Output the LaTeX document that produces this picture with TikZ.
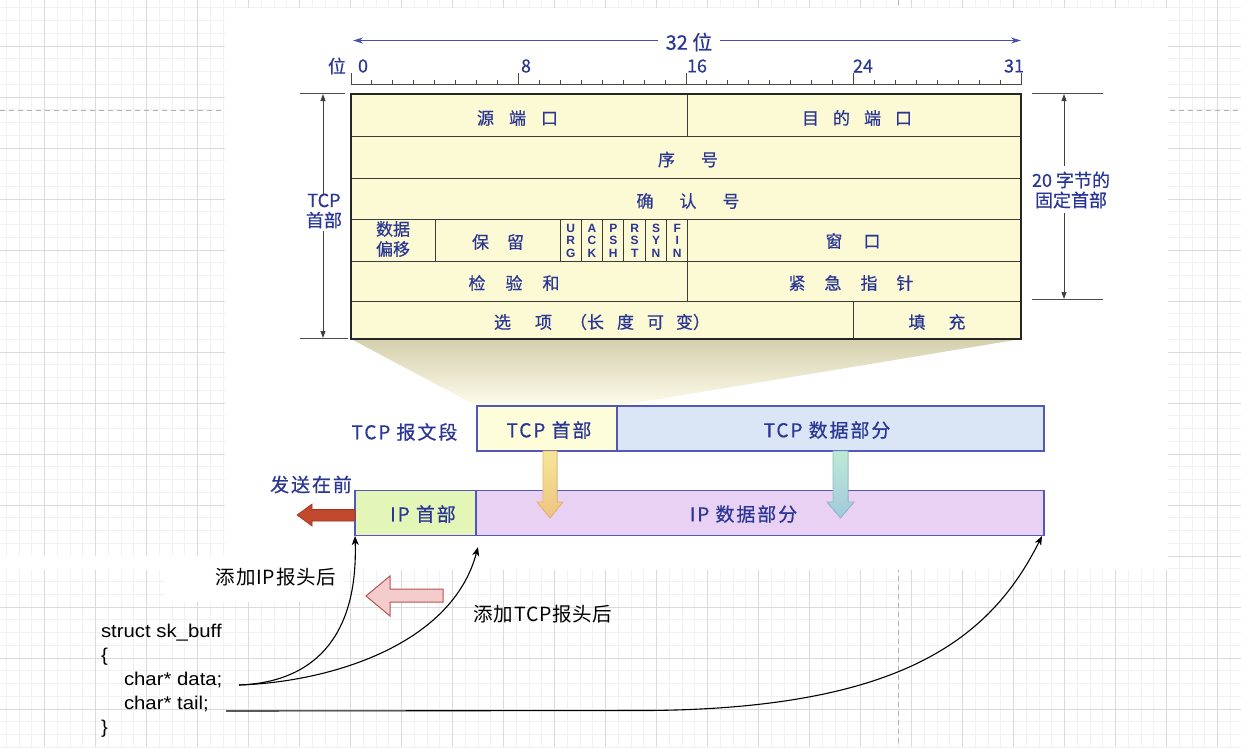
\documentclass[tikz,border=0pt]{standalone}
\usepackage{fontspec}
\setmainfont{Liberation Sans}
\newfontfamily\cjk{Noto Sans CJK SC}
\newfontfamily\cjkb{Noto Sans CJK SC}[FakeBold=0.5]
\newfontfamily\cjkbw{Noto Sans CJK SC}[FakeBold=0.5,LetterSpace=10]
\newfontfamily\codefont{Liberation Sans}[FakeStretch=1.1]
\newfontfamily\labelfont{Noto Sans CJK SC}[LetterSpace=4]
\usetikzlibrary{arrows.meta}
\definecolor{tblue}{RGB}{42,54,148}
\definecolor{cellfill}{RGB}{252,250,212}
\definecolor{cellline}{RGB}{60,60,60}
\definecolor{rulec}{RGB}{70,70,70}
\definecolor{arrblue}{RGB}{70,80,170}
\definecolor{boxline}{RGB}{82,88,180}
\definecolor{tcphfill}{RGB}{253,253,218}
\definecolor{tcpdfill}{RGB}{218,230,246}
\definecolor{iphfill}{RGB}{228,245,184}
\definecolor{ipdfill}{RGB}{233,209,243}
\definecolor{redarr}{RGB}{192,72,45}
\definecolor{pinkfill}{RGB}{244,204,204}
\definecolor{pinkline}{RGB}{184,84,80}
\definecolor{gridminor}{RGB}{241,241,241}
\definecolor{gridmajor}{RGB}{218,218,218}
\definecolor{shtop}{RGB}{212,207,172}
\definecolor{shbot}{RGB}{254,252,236}
\newcommand{\gp}[1]{\hspace{#1pt}}
\begin{document}
\begin{tikzpicture}[x=1pt,y=-1pt,
  every node/.style={inner sep=0pt,outer sep=0pt},
  bt/.style={text=tblue,font=\cjkb\fontsize{17}{20}\selectfont,align=center},
  mt/.style={text=tblue,font=\cjkb\fontsize{18}{20}\selectfont,align=center},
  wt/.style={text=tblue,font=\cjkbw\fontsize{19}{20}\selectfont,align=center},
  flag/.style={text=tblue,font=\bfseries\fontsize{12}{12.5}\selectfont,align=center},
  dimarr/.style={draw=black!75,line width=0.8pt,-{Triangle[length=7pt,width=5pt]}},
  dimline/.style={draw=black!70,line width=1pt},
  bluearr/.style={draw=arrblue,line width=1pt,-{Stealth[length=10pt,width=6pt]}},
  tick/.style={draw=rulec,line width=1pt},
  cellrule/.style={draw=cellline,line width=1pt},
  pbox/.style={draw=boxline,line width=1.2pt},
  conn/.style={draw=black,line width=1.1pt,-{Stealth[length=9pt,width=7pt,inset=2.5pt]}},
  dlbl/.style={font=\labelfont\fontsize{19.5}{22}\selectfont,text=black},
  code/.style={font=\codefont\fontsize{18.5}{22}\selectfont,text=black,anchor=base west},
  minorg/.style={draw=gridminor,line width=1pt},
  majorg/.style={draw=gridmajor,line width=1pt},
  pagebreak/.style={draw=black!30,line width=1pt,dash pattern=on 5pt off 4pt}
]
\useasboundingbox (0,0) rectangle (1241,747);
\fill[white] (0,0) rectangle (1241,747);
% ---- grid background ----
\foreach \i in {-3,...,94} {\draw[minorg] ({44.5+12.75*\i},0) -- ({44.5+12.75*\i},747);}
\foreach \i in {-3,...,55} {\draw[minorg] (0,{46+12.75*\i}) -- (1241,{46+12.75*\i});}
\foreach \i in {0,...,23} {\draw[majorg] ({44.5+51*\i},0) -- ({44.5+51*\i},747);}
\foreach \i in {0,...,13} {\draw[majorg] (0,{46+51*\i}) -- (1241,{46+51*\i});}
\draw[pagebreak] (0,110.5) -- (1241,110.5);
\draw[pagebreak] (898,0) -- (898,747);
% ---- white areas ----
\fill[white] (225,8) rectangle (1168,570);
\fill[white] (0,556) rectangle (343,570);
\fill[white] (165,556) rectangle (343,602);

% ---- top: 32 bit arrow ----
\node[text=tblue,font=\cjkb\fontsize{20}{22}\selectfont] (w32) at (689,42) {32 位};
\coordinate (wl) at (353,40.5);
\coordinate (wr) at (1021,40.5);
\draw[bluearr] (w32.west) ++(-8,-1.5) -- (wl);
\draw[bluearr] (w32.east) ++(8,-1.5) -- (wr);

% ---- ruler ----
\node[bt,font=\cjkb\fontsize{18}{20}\selectfont] (wei) at (337,66) {位};
\node[bt,font=\cjkb\fontsize{18}{20}\selectfont] (n0) at (363,66) {0};
\node[bt,font=\cjkb\fontsize{18}{20}\selectfont] (n8) at (526,66) {8};
\node[bt,font=\cjkb\fontsize{18}{20}\selectfont] (n16) at (697,66) {16};
\node[bt,font=\cjkb\fontsize{18}{20}\selectfont] (n24) at (863,66) {24};
\node[bt,font=\cjkb\fontsize{18}{20}\selectfont] (n31) at (1014,66) {31};
\draw[tick] (351,84.5) -- (1021,84.5);
\foreach \k in {1,...,31} {\draw[tick] ({351+20.94*\k},80) -- ({351+20.94*\k},84.5);}
\foreach \k in {0,8,16,24,32} {\draw[tick] ({351+20.94*\k},73) -- ({351+20.94*\k},84.5);}

% ---- shadow trapezoid ----
\shade[top color=shtop,bottom color=shbot] (351,339) -- (1021,339) -- (617,406) -- (477,406) -- cycle;

% ---- header table ----
\fill[cellfill] (351,94) rectangle (1021,339);
\draw[cellrule] (351,136) -- (1021,136);
\draw[cellrule] (351,178) -- (1021,178);
\draw[cellrule] (351,219) -- (1021,219);
\draw[cellrule] (351,261) -- (1021,261);
\draw[cellrule] (351,301) -- (1021,301);
\draw[cellrule] (687,94) -- (687,136);
\draw[cellrule] (687,219) -- (687,301);
\draw[cellrule] (435,219) -- (435,261);
\foreach \k in {0,...,5} {\draw[cellrule] ({560+21.33*\k},219) -- ({560+21.33*\k},261);}
\draw[cellrule] (853,301) -- (853,339);
\draw[draw=black!85,line width=2.2pt] (351,94) rectangle (1021,339);

\node[bt] (src) at (517.5,118) {源\gp{15}端\gp{15}口};
\node[bt] (dst) at (857,118) {目\gp{14}的\gp{14}端\gp{14}口};
\node[bt] (seq) at (688,159.5) {序\gp{26}号};
\node[bt] (ackn) at (688,201) {确\gp{26}认\gp{26}号};
\node[bt] (off) at (393,239) {数据\\偏移};
\node[bt] (res) at (498,242) {保\gp{18}留};
\node[flag] (fu) at (570.7,240.5) {U\\R\\G};
\node[flag] (fa) at (592,240.5) {A\\C\\K};
\node[flag] (fp) at (613.3,240.5) {P\\S\\H};
\node[flag] (fr) at (634.7,240.5) {R\\S\\T};
\node[flag] (fs) at (656,240.5) {S\\Y\\N};
\node[flag] (ff) at (677.3,240.5) {F\\I\\N};
\node[bt] (win) at (853,241) {窗\gp{21}口};
\node[bt] (cks) at (514,283) {检\gp{20}验\gp{20}和};
\node[bt] (urp) at (851,283) {紧\gp{19}急\gp{19}指\gp{19}针};
\node[bt] (opt) at (602,322) {选\gp{24}项\gp{18}（长\gp{13}度\gp{13}可\gp{12}变）};
\node[bt] (pad) at (937,322) {填\gp{23}充};

% ---- left dimension ----
\node[mt] (tcph) at (324,211) {TCP\\首部};
\draw[dimline] (300,93.5) -- (345,93.5);
\draw[dimline] (300,338.5) -- (348,338.5);
\coordinate (lt) at (323,94);
\coordinate (lb) at (323,338);
\draw[dimarr] (tcph.north -| lt) -- (lt);
\draw[dimarr] (tcph.south -| lb) ++(0,3) -- (lb);

% ---- right dimension ----
\node[mt] (fix) at (1071,190) {20 字节的\\固定首部};
\draw[dimline] (1032,93.5) -- (1103,93.5);
\draw[dimline] (1032,299) -- (1103,299);
\coordinate (rt) at (1064,94);
\coordinate (rb) at (1064,299);
\draw[dimarr] (1064,166) -- (rt);
\draw[dimarr] (1064,213) -- (rb);

% ---- TCP segment ----
\node[wt] (seglbl) at (404.5,432) {TCP 报文段};
\node[pbox,fill=tcphfill,minimum width=140pt,minimum height=45pt] (tcphdr) at (547,428.5) {};
\node[pbox,fill=tcpdfill,minimum width=427pt,minimum height=45pt] (tcpdat) at (830.5,428.5) {};
\node[wt] (tcphdrt) at (549,430) {TCP 首部};
\node[wt] (tcpdatt) at (827,430) {TCP 数据部分};

% ---- IP datagram ----
\node[pbox,fill=iphfill,minimum width=121pt,minimum height=45pt] (iphdr) at (415.5,513) {};
\node[pbox,fill=ipdfill,minimum width=568pt,minimum height=45pt] (ipdat) at (760,513) {};
\node[wt] (iphdrt) at (423,514) {IP 首部};
\node[wt] (ipdatt) at (743.5,514) {IP 数据部分};
\node[wt] (send) at (311,484.5) {发送在前};

% ---- down arrows ----
\filldraw[draw={rgb,255:red,228;green,180;blue,110},line width=0.8pt,top color={rgb,255:red,246;green,230;blue,150},bottom color={rgb,255:red,238;green,196;blue,130}]
  (543,451) -- (557,451) -- (557,502) -- (563,502) -- (550,518) -- (537,502) -- (543,502) -- cycle;
\filldraw[draw={rgb,255:red,140;green,186;blue,200},line width=0.8pt,top color={rgb,255:red,190;green,234;blue,212},bottom color={rgb,255:red,160;green,200;blue,222}]
  (833,451) -- (848,451) -- (848,502) -- (854,502) -- (840.5,518) -- (827,502) -- (833,502) -- cycle;

% ---- red left arrow ----
\filldraw[fill=redarr,draw={rgb,255:red,160;green,50;blue,30},line width=0.6pt]
  (355,509.5) -- (312,509.5) -- (312,504) -- (297,515) -- (312,526) -- (312,521) -- (355,521) -- cycle;

% ---- pink hollow arrow ----
\filldraw[fill=pinkfill,draw=pinkline,line width=1pt]
  (443,589) -- (390,589) -- (390,576) -- (366,596) -- (390,616) -- (390,602) -- (443,602) -- cycle;

% ---- labels ----
\node[dlbl] (addip) at (276,577) {添加IP报头后};
\node[dlbl] (addtcp) at (543,614) {添加TCP报头后};

% ---- struct code ----
\node[code] (c1) at (101,637) {struct sk\_buff};
\node[code] (c2) at (101,661) {\{};
\node[code] (c3) at (124,685) {char* data;};
\node[code] (c4) at (124,709) {char* tail;};
\node[code] (c5) at (101,733) {\}};

\coordinate (dstart) at (239,685);
\coordinate (tstart) at (226,711);
\coordinate (ipcorner) at (355,536);
\coordinate (tcpcorner) at (478,547);
\coordinate (endcorner) at (1042,536);

\draw[conn] (dstart) .. controls (320,682) and (358,630) .. (ipcorner);
\draw[conn] (dstart) .. controls (330,682) and (452,645) .. (tcpcorner);
\draw[conn] (tstart) -- (650,710.5) .. controls (900,708) and (990,640) .. (endcorner);
\end{tikzpicture}
\end{document}
